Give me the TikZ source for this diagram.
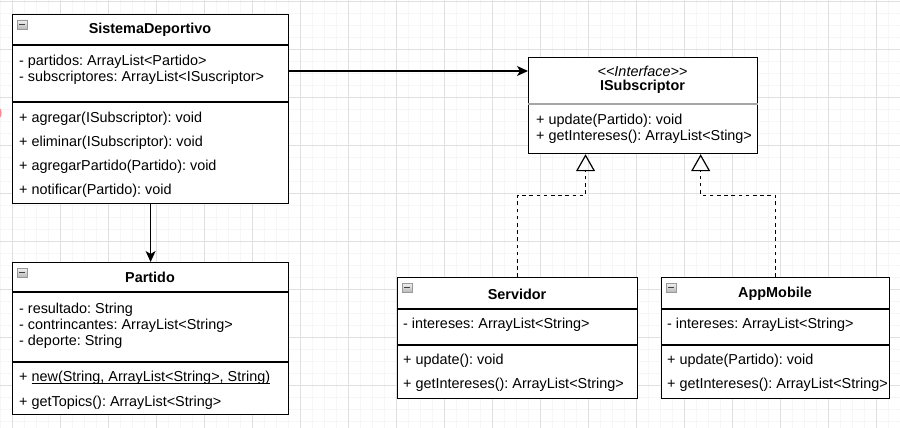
\documentclass[tikz,border=0pt]{standalone}
\usepackage{fontspec}
\setmainfont{Liberation Sans}
\usetikzlibrary{positioning,arrows.meta,calc}
\frenchspacing

\newcommand{\lowline}[1]{\setbox0\hbox{#1}\rlap{\rule[-1.8pt]{\wd0}{0.9pt}}\box0}
\newcommand{\foldicon}[1]{%
  \shade[top color=gray!10, bottom color=gray!55, draw=gray!80, line width=0.6pt]
    ([xshift=5pt,yshift=-6pt]#1.north west) rectangle ++(10,9);
  \draw[line width=1pt, black!75] ([xshift=7pt,yshift=-10.5pt]#1.north west) -- ++(6,0);}

\begin{document}
\begin{tikzpicture}[x=1pt, y=-1pt,
  classbox/.style={draw, line width=1.2pt, fill=white, inner sep=0pt, anchor=north west},
  member/.style={anchor=west, inner sep=0pt, font=\fontsize{14.4}{17}\selectfont},
  title/.style={inner sep=0pt, font=\fontsize{14.4}{17}\selectfont\bfseries},
  sep/.style={line width=1.2pt},
  sepgrey/.style={line width=1.2pt, gray!70},
  assoc/.style={line width=1.2pt, -{Stealth[length=11pt, width=10pt, inset=3pt]}},
  realize/.style={line width=1.2pt, dash pattern=on 3.6pt off 3.6pt, -{Triangle[open, length=17pt, width=19pt]}},
  minorgrid/.style={gray!7, line width=0.8pt},
  majorgrid/.style={gray!24, line width=0.8pt}]

  % background and grid
  \useasboundingbox (0,0) rectangle (900,428);
  \fill[white] (0,0) rectangle (900,428);
  \foreach \x in {0.7,12.7,...,900} \draw[minorgrid] (\x,0) -- (\x,428);
  \foreach \y in {1.3,13.3,...,428} \draw[minorgrid] (0,\y) -- (900,\y);
  \foreach \x in {12.7,60.7,...,900} \draw[majorgrid] (\x,0) -- (\x,428);
  \foreach \y in {1.3,49.3,...,428} \draw[majorgrid] (0,\y) -- (900,\y);
  \fill[purple!40!red!45] (0,117.5) arc[start angle=90, end angle=-90, x radius=1.6, y radius=4.5];

  % SistemaDeportivo
  \node[classbox, minimum width=276pt, minimum height=189pt] (sis) at (12,14) {};
  \foldicon{sis}
  \node[title] (sisT) at (150,30) {SistemaDeportivo};
  \draw[sep] ([yshift=-31pt]sis.north west) -- ([yshift=-31pt]sis.north east);
  \draw[sep, line width=1.6pt] ([yshift=-88pt]sis.north west) -- ([yshift=-88pt]sis.north east);
  \foreach \y/\txt [count=\i] in {62/{- partidos: ArrayList<Partido>},
      78/{- subscriptores: ArrayList<ISuscriptor>}}
    \node[member] (sisA\i) at (19,\y) {\txt};
  \foreach \y/\txt [count=\i] in {119/{+ agregar(ISubscriptor): void},
      143/{+ eliminar(ISubscriptor): void},
      167/{+ agregarPartido(Partido): void},
      191/{+ notificar(Partido): void}}
    \node[member] (sisM\i) at (19,\y) {\txt};

  % Partido
  \node[classbox, minimum width=276pt, minimum height=152pt] (part) at (12,262) {};
  \foldicon{part}
  \node[title] (partT) at (150,277) {Partido};
  \draw[sep] ([yshift=-30pt]part.north west) -- ([yshift=-30pt]part.north east);
  \draw[sep, line width=1.6pt] ([yshift=-100pt]part.north west) -- ([yshift=-100pt]part.north east);
  \foreach \y/\txt [count=\i] in {310/{- resultado: String},
      326/{- contrincantes: ArrayList<String>},
      342/{- deporte: String}}
    \node[member] (partA\i) at (19,\y) {\txt};
  \node[member] (partM1) at (19,378) {+ \lowline{new(String, ArrayList<String>, String)}};
  \node[member] (partM2) at (19,403) {+ getTopics(): ArrayList<String>};

  % ISubscriptor
  \node[classbox, minimum width=229pt, minimum height=96pt] (iface) at (528,57) {};
  \node[member, anchor=center] (ifaceS) at (642.5,71) {\itshape <{}<Interface>{}>};
  \node[title] (ifaceT) at (642.5,87) {ISubscriptor};
  \draw[sepgrey] ([yshift=-47pt]iface.north west) -- ([yshift=-47pt]iface.north east);
  \node[member] (ifaceM1) at (536,121) {+ update(Partido): void};
  \node[member] (ifaceM2) at (536,137) {+ getIntereses(): ArrayList<Sting>};

  % Servidor
  \node[classbox, minimum width=240pt, minimum height=121pt] (serv) at (397,277) {};
  \foldicon{serv}
  \node[title] (servT) at (517,294) {Servidor};
  \draw[sep] ([yshift=-32pt]serv.north west) -- ([yshift=-32pt]serv.north east);
  \draw[sep, line width=1.6pt] ([yshift=-68pt]serv.north west) -- ([yshift=-68pt]serv.north east);
  \node[member] (servA1) at (403,325) {- intereses: ArrayList<String>};
  \node[member] (servM1) at (403,361) {+ update(): void};
  \node[member] (servM2) at (403,385) {+ getIntereses(): ArrayList<String>};

  % AppMobile
  \node[classbox, minimum width=228pt, minimum height=121pt] (app) at (661,277) {};
  \foldicon{app}
  \node[title] (appT) at (775,294) {AppMobile};
  \draw[sep] ([yshift=-32pt]app.north west) -- ([yshift=-32pt]app.north east);
  \draw[sep, line width=1.6pt] ([yshift=-68pt]app.north west) -- ([yshift=-68pt]app.north east);
  \node[member] (appA1) at (667,325) {- intereses: ArrayList<String>};
  \node[member] (appM1) at (667,361) {+ update(Partido): void};
  \node[member] (appM2) at (667,385) {+ getIntereses(): ArrayList<String>};

  % connectors
  \coordinate (link) at (0,71);
  \coordinate (tipL) at ($(iface.south west)!0.25!(iface.south east)$);
  \coordinate (tipR) at ($(iface.south west)!0.75!(iface.south east)$);
  \draw[assoc] (sis.east |- link) -- (iface.west |- link);
  \draw[assoc] (sis.south) -- (part.north);
  \draw[realize] (serv.north) |- ($(tipL)+(0,41)$) -- (tipL);
  \draw[realize] (app.north) |- ($(tipR)+(0,41)$) -- (tipR);

\end{tikzpicture}
\end{document}
